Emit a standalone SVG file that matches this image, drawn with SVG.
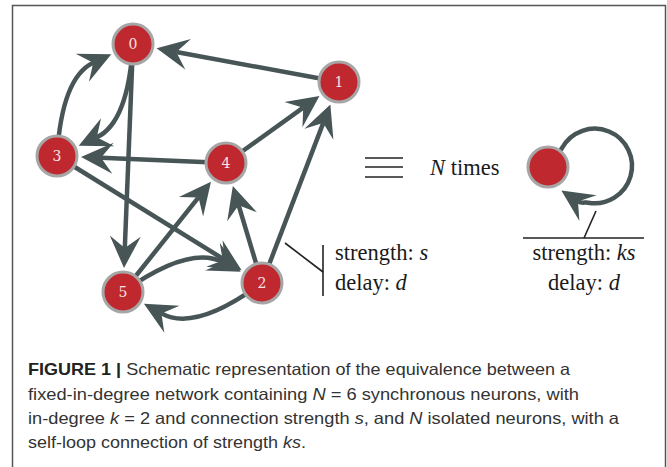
<svg xmlns="http://www.w3.org/2000/svg" width="667" height="467" viewBox="0 0 667 467">
<style>
.edge{fill:none;stroke:#475556;stroke-width:4.5;marker-end:url(#ah)}
.node circle{fill:#c0282f;stroke:#a6a6a6;stroke-width:3}
.node text{font-family:"DejaVu Serif","Liberation Serif",serif;font-size:14px;fill:#f4e4e4;text-anchor:middle}
.thin{stroke:#222;stroke-width:1.6;fill:none}
.lbl{font-family:"Liberation Serif",serif;font-size:22.5px;fill:#1a1a1a}
.cap{font-family:"Liberation Sans",Arial,sans-serif;font-size:16.5px;fill:#333}
</style>
<defs>
<marker id="ah" markerUnits="userSpaceOnUse" orient="auto" refX="0" refY="0" markerWidth="40" markerHeight="40" overflow="visible">
<path d="M20,0 L-12,-15.5 L0,0 L-12,15.5 Z" fill="#475556"/>
</marker>
</defs>
<rect x="12.5" y="5.5" width="653" height="475" fill="none" stroke="#555" stroke-width="1.5"/>
<g id="connectors">
<path class="edge" d="M339,82 L176.3,52"/>
<path class="edge" d="M133,44 L124.8,248"/>
<path class="edge" d="M226,163 L101,157.8"/>
<path class="edge" d="M226,163 L303.2,107.7"/>
<path class="edge" d="M262,283 L323.2,123.1"/>
<path class="edge" d="M57,156 L224.6,259.8"/>
<path class="edge" d="M123,292 L198.5,197.4"/>
<path class="edge" d="M262,283 L238.6,205.2"/>
<path class="edge" d="M133,44 Q128.2,122.5 96.8,137.3"/>
<path class="edge" d="M57,156 Q61.8,77.5 93.2,62.7"/>
<path class="edge" d="M123,292 Q189.7,244.6 223.1,262.4"/>
<path class="edge" d="M262,283 Q195.4,332.4 161.4,313.4"/>
<path class="edge" d="M556,157 L562,148 A37.3,37.3 0 1 1 588.2,202.7 C585.2,202.2 581,203.5 578,201.5"/>
</g>
<g id="node0" class="node"><circle cx="133" cy="44" r="20"/><text x="133" y="49">0</text></g>
<g id="node1" class="node"><circle cx="339" cy="82" r="20"/><text x="339" y="87">1</text></g>
<g id="node2" class="node"><circle cx="262" cy="283" r="20"/><text x="262" y="288">2</text></g>
<g id="node3" class="node"><circle cx="57" cy="156" r="20"/><text x="57" y="161">3</text></g>
<g id="node4" class="node"><circle cx="226" cy="163" r="20"/><text x="226" y="168">4</text></g>
<g id="node5" class="node"><circle cx="123" cy="292" r="20"/><text x="123" y="297">5</text></g>
<g id="node-self" class="node"><circle cx="548" cy="167" r="20"/></g>
<g id="equiv">
<line class="thin" x1="365" y1="158" x2="403" y2="158"/>
<line class="thin" x1="365" y1="167" x2="403" y2="167"/>
<line class="thin" x1="365" y1="177" x2="403" y2="177"/>
<text class="lbl" x="430" y="175"><tspan font-style="italic">N</tspan> times</text>
</g>
<g id="label-left">
<line class="thin" x1="285" y1="243" x2="323" y2="272"/>
<line class="thin" x1="323" y1="245" x2="323" y2="296"/>
<text class="lbl" x="335" y="260">strength: <tspan font-style="italic">s</tspan></text>
<text class="lbl" x="335" y="290">delay: <tspan font-style="italic">d</tspan></text>
</g>
<g id="label-right">
<line class="thin" x1="523" y1="238" x2="644" y2="238"/>
<line class="thin" x1="584" y1="238" x2="596" y2="211"/>
<text class="lbl" x="584" y="260" text-anchor="middle">strength: <tspan font-style="italic">ks</tspan></text>
<text class="lbl" x="584" y="290" text-anchor="middle">delay: <tspan font-style="italic">d</tspan></text>
</g>
<g id="caption">
<text class="cap" x="28" y="375" textLength="542" lengthAdjust="spacingAndGlyphs"><tspan font-weight="bold" fill="#222">FIGURE 1 |</tspan> Schematic representation of the equivalence between a</text>
<text class="cap" x="28" y="399.5" textLength="551" lengthAdjust="spacingAndGlyphs">fixed-in-degree network containing <tspan font-style="italic">N</tspan> = 6 synchronous neurons, with</text>
<text class="cap" x="28" y="424" textLength="591" lengthAdjust="spacingAndGlyphs">in-degree <tspan font-style="italic">k</tspan> = 2 and connection strength <tspan font-style="italic">s</tspan>, and <tspan font-style="italic">N</tspan> isolated neurons, with a</text>
<text class="cap" x="28" y="448" textLength="278" lengthAdjust="spacingAndGlyphs">self-loop connection of strength <tspan font-style="italic">ks</tspan>.</text>
</g>
</svg>
